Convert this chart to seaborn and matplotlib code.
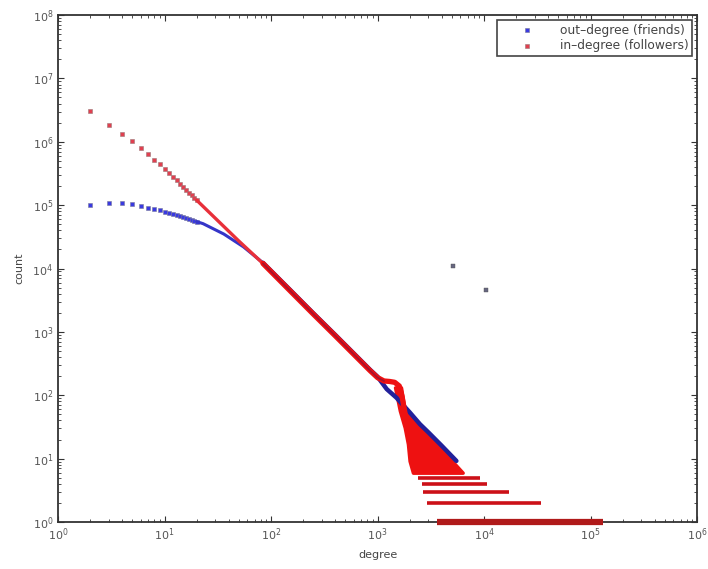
import numpy as np
import pandas as pd
import matplotlib
matplotlib.use("Agg")
import matplotlib.pyplot as plt
import seaborn as sns
from matplotlib.ticker import LogLocator, NullFormatter

# ---------------- data ----------------
# out-degree (friends): discrete low-degree points
out_deg = [2, 3, 4, 5, 6, 7, 8, 9, 10, 11, 12, 13, 14, 15, 16, 17, 18, 19, 20]
out_cnt = [1.0e5, 1.07e5, 1.07e5, 1.03e5, 9.7e4, 9.1e4, 8.8e4, 8.3e4, 7.8e4, 7.5e4,
           7.2e4, 6.9e4, 6.7e4, 6.5e4, 6.2e4, 6.0e4, 5.8e4, 5.6e4, 5.5e4]
# out-degree dense part
out_line_deg = [20, 23, 36, 55, 84, 150, 250, 400, 600, 850, 1000, 1220, 1500, 2000, 2500, 3000, 4000, 5500]
out_line_cnt = [5.5e4, 5.1e4, 3.5e4, 2.2e4, 1.23e4, 4.65e3, 1.96e3, 900, 455, 253, 196, 125, 92, 54, 35, 26, 16, 9.2]
# isolated out-degree points
out_iso_deg = [5100, 10400]
out_iso_cnt = [11000, 4500]

# in-degree (followers): discrete low-degree points
in_deg = [2, 3, 4, 5, 6, 7, 8, 9, 10, 11, 12, 13, 14, 15, 16, 17, 18, 19, 20]
in_cnt = [3.1e6, 1.87e6, 1.32e6, 1.02e6, 8.1e5, 6.5e5, 5.2e5, 4.4e5, 3.7e5, 3.2e5,
          2.8e5, 2.45e5, 2.15e5, 1.92e5, 1.72e5, 1.56e5, 1.42e5, 1.30e5, 1.2e5]
# in-degree dense part
in_line_deg = [20, 30, 50, 84, 150, 250, 400, 600, 850, 1000, 1150, 1300, 1450, 1600, 1700, 1800, 1900, 2000]
in_line_cnt = [1.2e5, 6.2e4, 2.7e4, 1.2e4, 4.5e3, 1.9e3, 870, 440, 245, 190, 168, 165, 160, 140, 95, 55, 35, 25]
# in-degree noisy cloud (count, lowest degree, highest degree)
cloud_cnt = [6, 9.2, 17, 31, 57, 133]
cloud_lo = [2150, 2000, 1930, 1800, 1620, 1460]
cloud_hi = [6300, 5000, 3700, 2500, 1800, 1660]
# in-degree low-count bands (count, first degree, last degree)
band_cnt = [1, 2, 3, 4, 5]
band_lo = [3600, 2900, 2700, 2600, 2400]
band_hi = [130000, 34000, 17000, 10700, 9100]

x_ticks = [1e0, 1e1, 1e2, 1e3, 1e4, 1e5, 1e6]
y_ticks = [1e0, 1e1, 1e2, 1e3, 1e4, 1e5, 1e6, 1e7, 1e8]

# ---------------- style ----------------
sns.set_style("ticks")
plt.rcParams["font.family"] = ["DejaVu Sans"]
plt.rcParams.update({
    "xtick.direction": "in", "ytick.direction": "in",
    "xtick.top": True, "ytick.right": True,
    "xtick.major.size": 4, "ytick.major.size": 4,
    "xtick.minor.size": 2, "ytick.minor.size": 2,
    "xtick.color": "#333333", "ytick.color": "#333333",
})

fig = plt.figure(figsize=(7.08, 5.69), dpi=100)
ax = fig.add_axes([0.082, 0.0826, 0.9025, 0.891])
ax.set_xscale("log")
ax.set_yscale("log")

BLUE = "#3a3ae0"
RED = "#ee1111"

# out-degree
sns.lineplot(x=out_line_deg[:5], y=out_line_cnt[:5], color="#3535c8", lw=2.2, ax=ax,
             estimator=None, sort=True, legend=False)
sns.lineplot(x=out_line_deg[4:], y=out_line_cnt[4:], color="#22209a", lw=3.2, ax=ax,
             estimator=None, sort=True, legend=False)
sns.scatterplot(x=out_deg, y=out_cnt, color=BLUE, edgecolor="#777799", linewidth=0.4,
                s=6, marker="s", ax=ax, label="out\u2013degree (friends)")
sns.scatterplot(x=out_iso_deg, y=out_iso_cnt, color="#666680", edgecolor="#555555",
                linewidth=0.3, s=5, marker="s", ax=ax, legend=False)

# in-degree
ax.fill_betweenx(cloud_cnt, cloud_lo, cloud_hi, color=RED, lw=2.5, edgecolor=RED)
ax.hlines(band_cnt[1:], band_lo[1:], band_hi[1:], color="#cc1018", lw=2.6)
ax.hlines(band_cnt[:1], band_lo[:1], band_hi[:1], color="#b01a1a", lw=4.5, clip_on=False, zorder=3)
sns.lineplot(x=in_line_deg[:4], y=in_line_cnt[:4], color="#e8303a", lw=2.4, ax=ax,
             estimator=None, sort=True, legend=False)
sns.lineplot(x=in_line_deg[3:], y=in_line_cnt[3:], color=RED, lw=3.8, ax=ax,
             estimator=None, sort=True, legend=False)
sns.lineplot(x=in_line_deg[3:11], y=in_line_cnt[3:11], color="#a8122e", lw=1.4, ax=ax,
             estimator=None, sort=True, legend=False)
sns.scatterplot(x=in_deg, y=in_cnt, color="#e04050", edgecolor="#997777", linewidth=0.4,
                s=6, marker="s", ax=ax, label="in\u2013degree (followers)")

ax.set_xlim(1, 1e6)
ax.set_ylim(1, 1e8)
ax.set_xticks(x_ticks)
ax.set_yticks(y_ticks)
ax.xaxis.set_minor_locator(LogLocator(base=10, subs=np.arange(2, 10), numticks=100))
ax.yaxis.set_minor_locator(LogLocator(base=10, subs=np.arange(2, 10), numticks=100))
ax.xaxis.set_minor_formatter(NullFormatter())
ax.yaxis.set_minor_formatter(NullFormatter())
ax.tick_params(labelsize=8, labelcolor="#555555")

for sp in ax.spines.values():
    sp.set_linewidth(1.3)
    sp.set_color("#333333")

ax.set_xlabel("degree", fontsize=8, color="#444444", labelpad=5)
ax.set_ylabel("count", fontsize=8, color="#444444", labelpad=6)

leg = ax.legend(loc="upper right", fontsize=8.8, frameon=True, fancybox=False,
                edgecolor="#444444", framealpha=1, borderaxespad=0.4,
                handlelength=4.2, handletextpad=0.6, labelcolor="#444444",
                borderpad=0.3, labelspacing=0.2)
leg.get_frame().set_linewidth(1.2)

fig.savefig("out.png", dpi=100)
